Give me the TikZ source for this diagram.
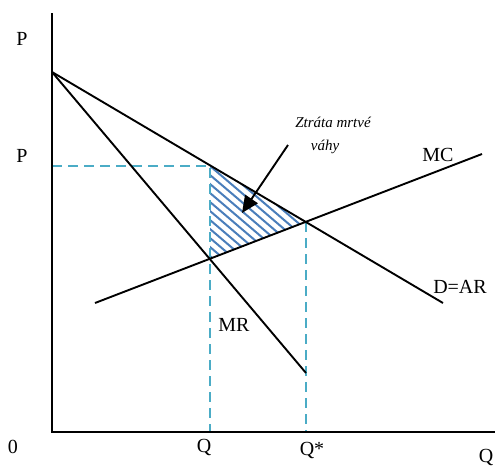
\documentclass[tikz,border=0pt]{standalone}
\usepackage{fontspec}
\setmainfont{Liberation Serif}
\usetikzlibrary{arrows.meta}
\definecolor{dashblue}{RGB}{75,172,198}
\definecolor{hatchblue}{RGB}{74,126,187}
\tikzset{
  curve/.style={line width=1.9pt, black},
  axisline/.style={line width=1.9pt, black},
  guide/.style={line width=2.2pt, dashblue, dash pattern=on 10pt off 6pt},
  lbl/.style={font=\fontsize{20}{22}\selectfont, inner sep=0pt},
  note/.style={font=\fontsize{15}{17}\selectfont\itshape, inner sep=0pt},
}
\begin{document}
\begin{tikzpicture}[x=1pt,y=-1pt]
\useasboundingbox (0,0) rectangle (495,466);
% key points
\coordinate (O) at (52,432);
\coordinate (ytop) at (52,13);
\coordinate (xend) at (495,432);
\coordinate (A) at (52,72);
\coordinate (Dend) at (443,303);
\coordinate (MRend) at (306,373);
\coordinate (MCl) at (95,303);
\coordinate (MCr) at (482,154);
\coordinate (E1) at (210,166);
\coordinate (E2) at (210,259);
\coordinate (E3) at (306,222);
\coordinate (Py) at (52,166);
\coordinate (Qx) at (210,432);
\coordinate (Qsx) at (306,432);
\coordinate (arrS) at (288,145);
\coordinate (arrE) at (242,213);
% hatched triangle
\begin{scope}
  \clip (E1) -- (E3) -- (E2) -- cycle;
  \foreach \c in {-200,-191,...,320} {
    \draw[hatchblue, line width=2pt] (150,\c) -- ++(260,221);
  }
\end{scope}
% dashed guides
\draw[guide] (Py) -- (E1) -- (Qx);
\draw[guide] (E3) -- (Qsx);
% axes
\draw[axisline] (ytop) -- (O) -- (xend);
% curves
\draw[curve] (A) -- (Dend);
\draw[curve] (A) -- (MRend);
\draw[curve] (MCl) -- (MCr);
% arrow
\draw[line width=1.9pt, -{Triangle[length=17pt,width=15pt]}] (arrS) -- (arrE);
% labels
\node[lbl] (lP1) at (22,39) {P};
\node[lbl] (lP2) at (22,156) {P};
\node[lbl] (l0) at (13,447) {0};
\node[lbl] (lQ) at (204,447) {Q};
\node[lbl] (lQs) at (312,450) {Q*};
\node[lbl] (lQ2) at (486,457) {Q};
\node[lbl] (lMC) at (438,155) {MC};
\node[lbl] (lD) at (460,287) {D=AR};
\node[lbl] (lMR) at (234,325) {MR};
\node[note] (z1) at (333,122) {Ztráta mrtvé};
\node[note] (z2) at (325,147) {váhy};
\end{tikzpicture}
\end{document}
